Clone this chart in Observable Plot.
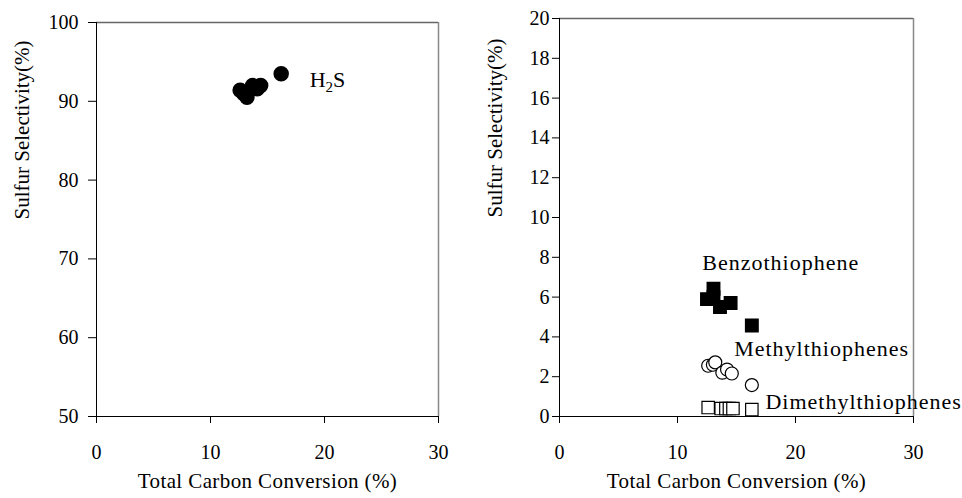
<!DOCTYPE html>
<html>
<head>
<meta charset="utf-8">
<script src="https://cdn.jsdelivr.net/npm/d3@7"></script>
<script src="https://cdn.jsdelivr.net/npm/@observablehq/plot@0.6"></script>
<style>
  html, body { margin: 0; padding: 0; background: white; }
  #wrap { position: relative; width: 962px; height: 498px; overflow: hidden; }
  #left { position: absolute; left: 0; top: 0; }
  #right { position: absolute; left: 481px; top: 0; }
  .series-label { letter-spacing: 1px; }
  .axis-label { letter-spacing: 0.4px; }
</style>
</head>
<body>
<div id="wrap"><div id="left"></div><div id="right"></div></div>
<script>
// ---- data ----
const xTicks = [0, 10, 20, 30];
const leftYTicks = [50, 60, 70, 80, 90, 100];
const rightYTicks = [0, 2, 4, 6, 8, 10, 12, 14, 16, 18, 20];
const xLabel = "Total Carbon Conversion (%)";
const yLabel = "Sulfur Selectivity(%)";

// H2S (left panel, filled circles)
const h2sX = [12.6, 12.9, 13.2, 13.7, 14.1, 14.4, 16.2];
const h2sY = [91.4, 91.0, 90.5, 92.0, 91.6, 92.0, 93.5];

// Benzothiophene (filled squares)
const btX = [12.5, 13.05, 13.05, 13.6, 14.5, 16.3];
const btY = [5.9, 6.0, 6.42, 5.5, 5.7, 4.57];

// Methylthiophenes (open circles)
const mtX = [12.6, 13.0, 13.2, 13.8, 14.2, 14.6, 16.3];
const mtY = [2.55, 2.6, 2.72, 2.2, 2.36, 2.16, 1.58];

// Dimethylthiophenes (open squares)
const dmtX = [12.6, 13.7, 14.1, 14.4, 14.7, 16.3];
const dmtY = [0.45, 0.4, 0.4, 0.4, 0.4, 0.35];

// series labels (anchor in data units)
const leftLabelText = ["H2S"];
const leftLabelX = [18.7];
const leftLabelY = [92.7];
const rightLabelText = ["Benzothiophene", "Methylthiophenes", "Dimethylthiophenes"];
const rightLabelX = [12.1, 14.8, 17.45];
const rightLabelY = [7.7, 3.4, 0.73];

// ---- build ----
const zip = (xs, ys) => xs.map((x, i) => ({x, y: ys[i]}));
const zipLabels = (ts, xs, ys) => ts.map((t, i) => ({t, x: xs[i], y: ys[i]}));

const baseStyle = {
  fontFamily: "'Liberation Serif', 'Times New Roman', serif",
  fontSize: "20px",
  color: "black",
  background: "white",
  overflow: "visible"
};

const left = Plot.plot({
  width: 481, height: 498,
  marginLeft: 96, marginRight: 43, marginTop: 22, marginBottom: 82,
  style: baseStyle,
  x: {domain: [0, 30], ticks: xTicks, tickSize: 7, tickPadding: 21, label: null},
  y: {domain: [50, 100], ticks: leftYTicks, tickSize: 8, tickPadding: 10, label: null},
  marks: [
    Plot.ruleY([100], {stroke: "#666", strokeWidth: 1.5}),
    Plot.ruleX([30], {stroke: "#888", strokeWidth: 1.5}),
    Plot.ruleX([0], {stroke: "black"}),
    Plot.ruleY([50], {stroke: "black"}),
    Plot.dot(zip(h2sX, h2sY), {x: "x", y: "y", r: 7, fill: "black", stroke: "black"}),
    Plot.text(zipLabels(leftLabelText, leftLabelX, leftLabelY), {x: "x", y: "y", text: "t", textAnchor: "start", fontSize: 22, fill: "black"}),
    Plot.text([xLabel], {text: d => d, frameAnchor: "bottom", dy: 71, fontSize: 21, fill: "black", className: "axis-label"}),
    Plot.text([yLabel], {text: d => d, frameAnchor: "left", dx: -74, rotate: -90, fontSize: 21, fill: "black"})
  ]
});

const right = Plot.plot({
  width: 481, height: 498,
  marginLeft: 78, marginRight: 49, marginTop: 18, marginBottom: 82,
  style: baseStyle,
  x: {domain: [0, 30], ticks: xTicks, tickSize: 7, tickPadding: 21, label: null},
  y: {domain: [0, 20], ticks: rightYTicks, tickSize: 7, tickPadding: 3, label: null},
  marks: [
    Plot.ruleY([20], {stroke: "#666", strokeWidth: 1.5}),
    Plot.ruleX([30], {stroke: "#888", strokeWidth: 1.5}),
    Plot.ruleX([0], {stroke: "black"}),
    Plot.ruleY([0], {stroke: "black"}),
    Plot.dot(zip(btX, btY), {x: "x", y: "y", r: 7, symbol: "square", fill: "black", stroke: "black"}),
    Plot.dot(zip(mtX, mtY), {x: "x", y: "y", r: 6.5, fill: "white", stroke: "black", strokeWidth: 1.2}),
    Plot.dot(zip(dmtX, dmtY), {x: "x", y: "y", r: 7, symbol: "square", fill: "white", stroke: "black", strokeWidth: 1.2}),
    Plot.text(zipLabels(rightLabelText, rightLabelX, rightLabelY), {x: "x", y: "y", text: "t", textAnchor: "start", fontSize: 22, fill: "black", className: "series-label"}),
    Plot.text([xLabel], {text: d => d, frameAnchor: "bottom", dy: 71, fontSize: 21, fill: "black", className: "axis-label"}),
    Plot.text([yLabel], {text: d => d, frameAnchor: "left", dx: -64, rotate: -90, fontSize: 21, fill: "black"})
  ]
});

// subscript for H2S
d3.select(left).selectAll("text").each(function() {
  if (this.textContent === "H2S") {
    const t = d3.select(this);
    t.text("");
    t.append("tspan").text("H");
    t.append("tspan").attr("dy", "5").attr("font-size", "15").text("2");
    t.append("tspan").attr("dy", "-5").text("S");
  }
});

document.getElementById("left").appendChild(left);
document.getElementById("right").appendChild(right);
</script>
</body>
</html>
